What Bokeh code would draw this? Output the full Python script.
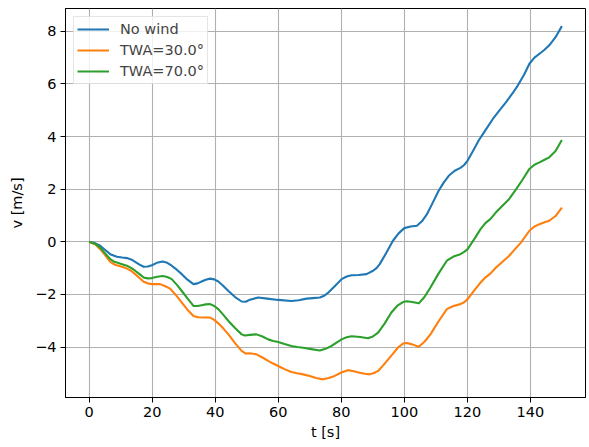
from bokeh.plotting import figure
from bokeh.models import Range1d, SingleIntervalTicker, CustomJSTickFormatter, Legend, LegendItem
from bokeh.embed import file_html
from bokeh.resources import INLINE

# --- No wind ---
t_no_wind = [0, 2, 3.5, 5, 6.7, 8.8, 10.5, 12, 13.5, 14.6, 16, 17.3, 18.6, 19.9, 21.5, 23.3, 24.8,
             26.2, 27.8, 29.4, 31.2, 33.1, 34.4, 35.7, 37, 38.4, 39.7, 41, 42.6, 44.2, 46.3, 48.4,
             49.7, 51, 53.6, 56.5, 60, 64.2, 66.5, 69, 71, 73.2, 74.6, 75.9, 78, 80.1, 81.7, 83.3,
             85.5, 88, 90.1, 91.2, 92.2, 94.3, 96.4, 98.2, 100, 102, 104, 105.6, 107.2, 109, 110.9,
             112.5, 114.1, 116, 117.8, 119, 120.1, 121.8, 123.6, 125.5, 128.1, 130.2, 132.3, 134.2,
             136, 138, 139.7, 141.3, 142.9, 144.5, 146, 148, 150]
v_no_wind = [0, -0.06, -0.15, -0.3, -0.47, -0.57, -0.6, -0.62, -0.68, -0.76, -0.87, -0.95, -0.94,
             -0.89, -0.8, -0.75, -0.8, -0.91, -1.06, -1.23, -1.44, -1.61, -1.58, -1.51, -1.44, -1.40,
             -1.43, -1.51, -1.68, -1.87, -2.1, -2.27, -2.28, -2.2, -2.12, -2.16, -2.21, -2.25, -2.22,
             -2.16, -2.14, -2.12, -2.05, -1.93, -1.68, -1.42, -1.32, -1.27, -1.26, -1.23, -1.10, -1.0,
             -0.85, -0.42, 0.04, 0.32, 0.52, 0.58, 0.61, 0.78, 1.05, 1.48, 1.94, 2.25, 2.51, 2.7,
             2.81, 2.92, 3.09, 3.45, 3.85, 4.2, 4.67, 5.0, 5.31, 5.62, 5.94, 6.35, 6.77, 7.0, 7.15,
             7.3, 7.47, 7.78, 8.2]

# --- TWA = 30.0 deg ---
t_twa30 = [0, 2, 3.5, 5, 6.7, 8, 9.3, 10.7, 12, 13.3, 14.6, 16, 17.3, 18.6, 19.9, 21.2, 22.5, 24,
           25.7, 27.5, 29.4, 31.2, 33.1, 34.6, 36.2, 38.4, 39.7, 41, 42.6, 44.2, 46.3, 48.4, 49.7,
           51, 53.1, 55, 56.8, 58.4, 60, 62, 64.2, 66, 67.9, 70, 72, 74.2, 76, 77.9, 80, 82.1, 84,
           85.8, 87.5, 89, 90.4, 91.7, 93.3, 94.9, 96.5, 98, 99.6, 100.8, 102.5, 104.6, 106.4,
           108.3, 110.9, 113.5, 115.6, 117.8, 119, 120.1, 122.2, 124.2, 125.8, 127.3, 129.1, 131,
           133.3, 135.2, 137, 139.7, 141.3, 142.9, 144.5, 146, 148, 150]
v_twa30 = [0, -0.1, -0.28, -0.5, -0.76, -0.86, -0.91, -0.96, -1.02, -1.1, -1.23, -1.38, -1.52,
           -1.58, -1.61, -1.61, -1.61, -1.68, -1.78, -2.02, -2.31, -2.58, -2.82, -2.87, -2.88,
           -2.88, -2.97, -3.10, -3.3, -3.52, -3.85, -4.15, -4.25, -4.24, -4.28, -4.4, -4.53,
           -4.63, -4.72, -4.84, -4.95, -5.0, -5.04, -5.1, -5.18, -5.23, -5.18, -5.10, -4.97,
           -4.88, -4.92, -4.98, -5.02, -5.04, -4.99, -4.91, -4.7, -4.47, -4.24, -4.02, -3.87,
           -3.85, -3.9, -3.99, -3.8, -3.52, -3.02, -2.56, -2.44, -2.37, -2.3, -2.18, -1.85, -1.55,
           -1.35, -1.21, -0.98, -0.78, -0.53, -0.27, -0.03, 0.42, 0.58, 0.67, 0.74, 0.8, 0.98, 1.3]

# --- TWA = 70.0 deg ---
t_twa70 = [0, 2, 3.5, 5, 6.7, 8, 9.3, 10.7, 12, 13.3, 14.6, 16, 17.3, 18.6, 19.9, 21.6, 23.3, 24.8,
           26.2, 27.8, 29.4, 31.2, 33.1, 34.4, 35.7, 37, 38.4, 39.7, 41, 42.6, 44.2, 46.3, 48.4,
           49.4, 51, 53.1, 55, 56.8, 58.4, 60, 62, 64.2, 66, 67.9, 70.5, 73.2, 75, 76.9, 78.5,
           80.1, 81.7, 83.3, 86, 88.5, 90, 91.7, 93.8, 95.9, 97.8, 99.6, 100.8, 102.5, 104.6,
           106.4, 108.3, 110.9, 113.5, 115.6, 117.8, 119, 120.1, 122.2, 124.2, 125.8, 127.3,
           129.1, 131, 133.3, 135.5, 137.3, 139.7, 141.3, 142.9, 144.5, 146, 148, 150]
v_twa70 = [0, -0.08, -0.22, -0.43, -0.66, -0.76, -0.81, -0.86, -0.91, -0.99, -1.10, -1.23, -1.36,
           -1.39, -1.38, -1.33, -1.30, -1.34, -1.42, -1.63, -1.87, -2.15, -2.44, -2.44, -2.41,
           -2.38, -2.37, -2.44, -2.56, -2.78, -3.01, -3.28, -3.52, -3.56, -3.54, -3.52, -3.6,
           -3.71, -3.77, -3.81, -3.89, -3.96, -4.0, -4.03, -4.08, -4.13, -4.07, -3.96, -3.83,
           -3.71, -3.63, -3.59, -3.62, -3.67, -3.6, -3.45, -3.1, -2.69, -2.43, -2.29, -2.26,
           -2.29, -2.34, -2.1, -1.74, -1.2, -0.72, -0.56, -0.47, -0.38, -0.28, 0.1, 0.48, 0.72,
           0.86, 1.12, 1.35, 1.63, 2.0, 2.32, 2.77, 2.93, 3.02, 3.12, 3.21, 3.45, 3.87]

labels = ["No wind", "TWA=30.0°", "TWA=70.0°"]
colors = ["#1f77b4", "#ff7f0e", "#2ca02c"]

FONT = "DejaVu Sans"
FS = "14.5px"

p = figure(width=589, height=447, output_backend="svg", toolbar_location=None,
           x_range=Range1d(-7.5, 157.5), y_range=Range1d(-5.92, 8.87),
           min_border_left=65, min_border_right=4, min_border_top=8, min_border_bottom=50)
p.background_fill_color = "white"
p.border_fill_color = "white"
p.outline_line_color = "black"
p.outline_line_width = 1

renderers = []
for ts, ys, c in zip([t_no_wind, t_twa30, t_twa70], [v_no_wind, v_twa30, v_twa70], colors):
    r = p.line(ts, ys, line_color=c, line_width=2.1, line_join="round")
    renderers.append(r)

p.xaxis.ticker = SingleIntervalTicker(interval=20)
p.yaxis.ticker = SingleIntervalTicker(interval=2)
p.yaxis.formatter = CustomJSTickFormatter(code="return tick < 0 ? '\u2212' + Math.abs(tick) : String(tick);")

for ax in [p.xaxis[0], p.yaxis[0]]:
    ax.axis_line_color = "black"
    ax.major_tick_line_color = "black"
    ax.major_tick_out = 5
    ax.major_tick_in = 0
    ax.minor_tick_line_color = None
    ax.major_label_text_font = FONT
    ax.major_label_text_font_size = FS
    ax.major_label_text_color = "black"
    ax.axis_label_text_font = FONT
    ax.axis_label_text_font_size = FS
    ax.axis_label_text_font_style = "normal"
    ax.axis_label_text_color = "black"
    ax.major_label_standoff = 4

p.xaxis.axis_label = "t [s]"
p.yaxis.axis_label = "v [m/s]"
p.xaxis.axis_label_standoff = 4
p.yaxis.axis_label_standoff = 7

p.grid.grid_line_color = "#b0b0b0"
p.grid.grid_line_width = 1.1

legend = Legend(items=[LegendItem(label=l, renderers=[r]) for l, r in zip(labels, renderers)],
                location="top_left", margin=8, padding=3, spacing=3,
                label_height=18, glyph_height=18, glyph_width=32, label_standoff=11,
                label_text_font=FONT, label_text_font_size=FS,
                border_line_color="#cccccc", border_line_width=1,
                background_fill_color="white", background_fill_alpha=0.8)
p.add_layout(legend)

open("out.html", "w").write(file_html(p, INLINE))
